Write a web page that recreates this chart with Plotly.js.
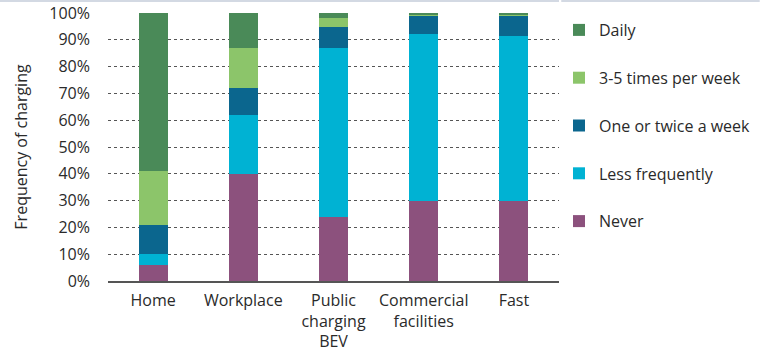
<!DOCTYPE html>
<html>
<head>
<meta charset="utf-8">
<script src="https://cdn.plot.ly/plotly-3.0.1.min.js"></script>
<style>html,body{margin:0;padding:0;background:#fff;}#chart{width:768px;height:355px;}</style>
</head>
<body>
<div id="chart"></div>
<script>
const categories = ["Home", "Workplace", "Public<br>charging<br>BEV", "Commercial<br>facilities", "Fast"];
const never = [6, 40, 24, 30, 30];
const lessFrequently = [4, 22, 63, 62, 61.5];
const onceOrTwice = [11, 10, 7.6, 6.7, 7.3];
const threeToFive = [20, 15, 3.4, 0.6, 0.6];
const daily = [59, 13, 2, 0.7, 0.6];
const yTicks = [0, 10, 20, 30, 40, 50, 60, 70, 80, 90, 100];
const yTickLabels = yTicks.map(v => v + "%");

const seriesNames = ["Never", "Less frequently", "One or twice a week", "3-5 times per week", "Daily"];
const seriesValues = [never, lessFrequently, onceOrTwice, threeToFive, daily];
const seriesColors = ["#8C517D", "#00B2D3", "#0B668E", "#8CC56A", "#4A8A58"];

const traces = seriesNames.map((name, i) => ({
  type: "bar",
  name: name,
  x: categories,
  y: seriesValues[i],
  marker: {color: seriesColors[i], line: {width: 0}},
  width: 0.32,
  legendgroup: "g" + i,
  legendrank: 100 - i,
  hoverinfo: "name+y"
}));

const font = "'Open Sans', 'Noto Sans', sans-serif";
const txt = "#2a2a2a";
const layout = {
  width: 768, height: 355,
  margin: {l: 108, r: 207, t: 13, b: 74},
  paper_bgcolor: "#ffffff",
  plot_bgcolor: "#ffffff",
  barmode: "stack",
  font: {family: font, size: 16, color: txt},
  xaxis: {
    type: "category",
    tickfont: {family: font, size: 16, color: txt},
    showline: true, linecolor: "#555555", linewidth: 1.5,
    ticks: "", showgrid: false, zeroline: false, fixedrange: true,
    ticklabelstandoff: 4
  },
  yaxis: {
    range: [0, 100],
    tickvals: yTicks, ticktext: yTickLabels,
    tickfont: {family: font, size: 16, color: txt},
    showgrid: true, gridcolor: "#555555", gridwidth: 1, griddash: "dot",
    zeroline: false, showline: false, ticks: "", ticklen: 0,
    ticklabelstandoff: 17,
    title: {text: "Frequency of charging", font: {family: font, size: 16, color: txt}, standoff: 17},
    fixedrange: true
  },
  legend: {
    x: 1.0, xanchor: "left", xref: "paper",
    y: 1.0, yanchor: "top",
    traceorder: "grouped",
    tracegroupgap: 24,
    font: {family: font, size: 16, color: txt},
    bgcolor: "rgba(0,0,0,0)",
    borderwidth: 0
  },
  showlegend: true,
  shapes: [
    {type: "line", xref: "paper", yref: "paper", x0: -0.24, x1: 1.0, y0: 1.045, y1: 1.045, line: {color: "#C4CCDA", width: 1.5}},
    {type: "line", xref: "paper", yref: "paper", x0: 1.005, x1: 1.445, y0: 1.045, y1: 1.045, line: {color: "#C4CCDA", width: 1.5}}
  ]
};

Plotly.newPlot("chart", traces, layout, {displayModeBar: false, staticPlot: true});
</script>
</body>
</html>
